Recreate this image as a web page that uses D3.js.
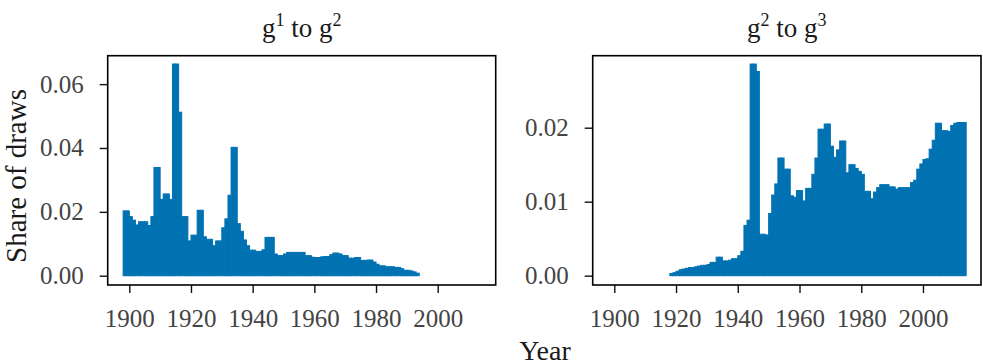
<!DOCTYPE html>
<html>
<head>
<meta charset="utf-8">
<script src="https://cdn.jsdelivr.net/npm/d3@7"></script>
<style>
  html, body { margin: 0; padding: 0; background: #fff; }
  svg { display: block; }
  text { font-family: "Liberation Serif", "DejaVu Serif", serif; }
</style>
</head>
<body>
<svg id="chart" width="983" height="364"></svg>
<script>
// ---- data ----
const leftStartYear = 1898;
const leftValues = [
  0.0203, 0.0203, 0.0185, 0.0174, 0.0159, 0.0169, 0.0169, 0.0169, 0.0157, 0.0185,
  0.0339, 0.0339, 0.0239, 0.0256, 0.0256, 0.0239, 0.0663, 0.0663, 0.0512, 0.0185,
  0.0185, 0.0109, 0.0127, 0.0127, 0.0205, 0.0205, 0.0122, 0.0114, 0.0114, 0.0094,
  0.0109, 0.0109, 0.0150, 0.0178, 0.0252, 0.0402, 0.0402, 0.0163, 0.0139, 0.0112,
  0.0094, 0.0080, 0.0080, 0.0076, 0.0076, 0.0081, 0.0120, 0.0120, 0.0120, 0.0068,
  0.0063, 0.0063, 0.0068, 0.0073, 0.0073, 0.0073, 0.0073, 0.0073, 0.0073, 0.0063,
  0.0063, 0.0058, 0.0057, 0.0057, 0.0059, 0.0060, 0.0060, 0.0066, 0.0071, 0.0071,
  0.0068, 0.0063, 0.0063, 0.0055, 0.0055, 0.0057, 0.0057, 0.0048, 0.0048, 0.0049,
  0.0049, 0.0043, 0.0036, 0.0031, 0.0031, 0.0028, 0.0028, 0.0028, 0.0026, 0.0026,
  0.0022, 0.0017, 0.0017, 0.0015, 0.0012, 0.0008
];
const rightStartYear = 1918;
const rightValues = [
  0.0003, 0.0004, 0.0006, 0.0008, 0.0009, 0.0010, 0.0011, 0.0011, 0.0012, 0.0013,
  0.0014, 0.0014, 0.0015, 0.0018, 0.0018, 0.0025, 0.0025, 0.0020, 0.0020, 0.0021,
  0.0023, 0.0023, 0.0027, 0.0033, 0.0068, 0.0075, 0.0286, 0.0286, 0.0276, 0.0056,
  0.0056, 0.0055, 0.0084, 0.0109, 0.0124, 0.0159, 0.0159, 0.0144, 0.0144, 0.0108,
  0.0106, 0.0115, 0.0115, 0.0101, 0.0118, 0.0118, 0.0137, 0.0159, 0.0198, 0.0198,
  0.0205, 0.0205, 0.0175, 0.0160, 0.0170, 0.0182, 0.0182, 0.0139, 0.0150, 0.0150,
  0.0145, 0.0141, 0.0137, 0.0114, 0.0114, 0.0104, 0.0113, 0.0119, 0.0123, 0.0123,
  0.0123, 0.0120, 0.0120, 0.0117, 0.0119, 0.0119, 0.0119, 0.0119, 0.0126, 0.0129,
  0.0144, 0.0151, 0.0157, 0.0158, 0.0171, 0.0183, 0.0206, 0.0206, 0.0196, 0.0196,
  0.0195, 0.0203, 0.0206, 0.0207, 0.0207, 0.0207
];
const xTicks = [1900, 1920, 1940, 1960, 1980, 2000];
const leftYTicks = [0.00, 0.02, 0.04, 0.06];
const rightYTicks = [0.00, 0.01, 0.02];
const titles = ["g|1| to g|2", "g|2| to g|3"];
const yLabel = "Share of draws";
const xLabel = "Year";

// ---- layout ----
const svg = d3.select("#chart");
const barColor = "#0072B2";
const plotTop = 55.7, plotBottom = 285;
const panels = [
  { x0: 107.7, x1: 495.7, start: leftStartYear, values: leftValues, yDomain: [-0.00291, 0.0689], yTicks: leftYTicks, title: titles[0] },
  { x0: 592.7, x1: 981, start: rightStartYear, values: rightValues, yDomain: [-0.00126, 0.02973], yTicks: rightYTicks, title: titles[1] }
];

panels.forEach(p => {
  const x = d3.scaleLinear().domain([1893, 2018.8]).range([p.x0, p.x1]);
  const y = d3.scaleLinear().domain(p.yDomain).range([plotBottom, plotTop]);
  const g = svg.append("g");
  const data = p.values.map((v, i) => ({ year: p.start + i, v }));

  g.selectAll("rect.bar").data(data).enter().append("rect")
    .attr("class", "bar")
    .attr("x", d => x(d.year))
    .attr("width", d => x(d.year + 1) - x(d.year))
    .attr("y", d => y(d.v))
    .attr("height", d => y(0) - y(d.v))
    .attr("fill", barColor)
    .attr("stroke", barColor)
    .attr("stroke-width", 1);

  const xa = g.append("g").attr("transform", `translate(0,${plotBottom})`)
    .call(d3.axisBottom(x).tickValues(xTicks).tickFormat(d3.format("d")).tickSize(8).tickPadding(16));
  const ya = g.append("g").attr("transform", `translate(${p.x0},0)`)
    .call(d3.axisLeft(y).tickValues(p.yTicks).tickFormat(d3.format(".2f")).tickSize(8).tickPadding(16));
  [xa, ya].forEach(a => {
    a.select(".domain").remove();
    a.selectAll(".tick line").attr("stroke", "#111").attr("stroke-width", 1.4);
    a.selectAll(".tick text").attr("fill", "#444").style("font-size", "25px")
      .style("font-family", "'Liberation Serif', serif");
  });
  xa.selectAll(".tick text").attr("dy", "0.71em");

  g.append("rect").attr("x", p.x0).attr("y", plotTop)
    .attr("width", p.x1 - p.x0).attr("height", plotBottom - plotTop)
    .attr("fill", "none").attr("stroke", "#000").attr("stroke-width", 1.6);

  const parts = p.title.split("|");
  const t = g.append("text").attr("x", (p.x0 + p.x1) / 2).attr("y", 37)
    .attr("text-anchor", "middle").attr("fill", "#1a1a1a").style("font-size", "27px");
  parts.forEach((s, i) => {
    const sp = t.append("tspan").text(s);
    if (i % 2 === 1) {
      sp.style("font-size", "18px").attr("dy", "-11");
    } else if (i > 0) {
      sp.attr("dy", "11");
    }
  });
});

svg.append("text").attr("transform", "translate(26,176) rotate(-90)")
  .attr("text-anchor", "middle").attr("fill", "#1a1a1a").style("font-size", "29px").text(yLabel);
svg.append("text").attr("x", 545).attr("y", 360)
  .attr("text-anchor", "middle").attr("fill", "#1a1a1a").style("font-size", "28px").text(xLabel);
</script>
</body>
</html>
